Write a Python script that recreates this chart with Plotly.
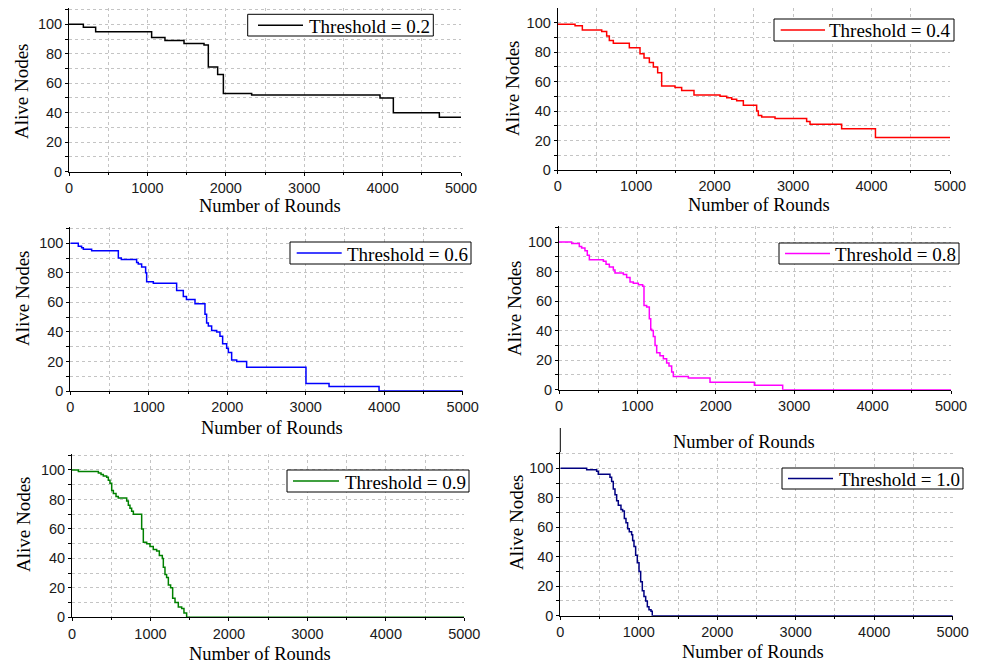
import plotly.graph_objects as go

# ---------------- data ----------------
labels = ["Threshold = 0.2", "Threshold = 0.4", "Threshold = 0.6",
          "Threshold = 0.8", "Threshold = 0.9", "Threshold = 1.0"]
colors = ["#000000", "#ff0000", "#0000ff", "#ff00ff", "#008000", "#000080"]

rounds_02 = [0, 183, 340, 1054, 1224, 1467, 1722, 1777, 1896, 1969, 2330, 3967, 4137, 4724, 5000]
nodes_02 = [100, 98, 95, 91, 89, 87, 86, 71, 66, 53, 52, 50, 40, 37, 37]

rounds_04 = [0, 221, 314, 561, 624, 658, 709, 913, 1049, 1100, 1168, 1219, 1274, 1325, 1495,
             1580, 1737, 2069, 2154, 2218, 2281, 2366, 2536, 2557, 2600, 2770, 3173, 3216,
             3619, 4050, 5000]
nodes_04 = [99, 98, 95, 94, 91, 88, 86, 83, 79, 76, 73, 70, 66, 57, 56,
            54, 51, 50, 49, 48, 47, 44, 40, 37, 36, 35, 33, 31,
            28, 22, 22]

rounds_06 = [0, 102, 144, 166, 272, 612, 650, 845, 866, 909, 960, 973, 1058, 1355, 1440, 1480,
             1589, 1716, 1737, 1759, 1801, 1865, 1907, 1941, 1992, 2014, 2056, 2120, 2247,
             3003, 3297, 3934, 5000]
nodes_06 = [100, 98, 97, 96, 95, 90, 89, 87, 86, 84, 80, 74, 73, 68, 64, 62,
            59, 52, 46, 44, 41, 40, 37, 32, 29, 26, 21, 20, 16,
            5, 3, 0, 0]

rounds_08 = [0, 162, 259, 289, 331, 361, 387, 566, 600, 642, 693, 714, 821, 863, 906, 948, 1012,
             1067, 1084, 1118, 1152, 1170, 1182, 1203, 1225, 1246, 1288, 1331, 1373, 1403, 1437,
             1458, 1650, 1926, 2492, 2853, 5000]
nodes_08 = [100, 99, 97, 96, 94, 91, 88, 87, 85, 83, 81, 79, 78, 76, 73, 72, 71,
            70, 57, 56, 48, 41, 40, 36, 30, 25, 23, 21, 18, 16, 12,
            9, 8, 5, 3, 0, 0]

rounds_09 = [0, 81, 336, 370, 399, 442, 463, 484, 506, 527, 561, 590, 697, 718, 739, 760, 782,
             888, 909, 952, 994, 1036, 1079, 1113, 1151, 1164, 1185, 1206, 1228, 1257, 1283,
             1313, 1355, 1398, 1427, 1461, 5000]
nodes_09 = [100, 99, 98, 97, 96, 95, 93, 91, 86, 84, 82, 81, 79, 76, 74, 72, 70,
            60, 51, 50, 48, 46, 45, 42, 40, 34, 29, 27, 22, 20, 13,
            10, 7, 6, 3, 0, 0]

rounds_10 = [0, 336, 463, 484, 633, 654, 675, 697, 718, 739, 773, 794, 816, 837, 858, 879, 909,
             922, 939, 960, 981, 1003, 1024, 1045, 1066, 1088, 1109, 1130, 1156, 1172, 5000]
nodes_10 = [100, 99, 98, 96, 94, 91, 86, 82, 78, 75, 72, 71, 66, 63, 59, 57, 55,
            51, 47, 41, 36, 30, 23, 17, 13, 10, 6, 4, 3, 0, 0]

series_rounds = [rounds_02, rounds_04, rounds_06, rounds_08, rounds_09, rounds_10]
series_nodes = [nodes_02, nodes_04, nodes_06, nodes_08, nodes_09, nodes_10]

x_tick_vals = [0, 1000, 2000, 3000, 4000, 5000]
y_tick_vals = [0, 20, 40, 60, 80, 100]
x_title = "Number of Rounds"
y_title = "Alive Nodes"

# ---------------- layout geometry (pixels in the 981x667 window) ----------------
W, H = 981, 667
OFF = 8  # default body margin of the written page
# plot area: left, right, pixel of y=100, bottom (y=0)
areas = [(69, 461, 24.3, 171.7), (557.7, 950, 22.7, 170),
         (70.3, 462.7, 243.3, 391), (559, 951, 242, 389.7),
         (72, 464.3, 470, 617.3), (560.3, 952.7, 468.3, 615.7)]
# legend box: left, right, top, bottom, sample-line start, sample-line end, text left
legend_box = [(247.7, 433.3, 14.3, 36, 258, 303, 307),
              (774, 954, 19, 41, 780.7, 825, 827),
              (290, 471, 242, 264, 296.7, 341.7, 344.5),
              (779, 959, 243, 264, 785, 830, 833),
              (287, 469, 470, 492, 293, 339, 342.5),
              (782, 963, 468, 489, 788, 833, 837)]
xtitle_pos = [(270, 206), (759, 205), (272, 428), (744, 442), (260, 654), (753, 652)]
ytitle_pos = [(22, 91), (512, 88), (23, 298), (514, 308), (23, 524), (516, 522)]

def px(x):
    return (x - OFF) / W

def py(y):
    return 1 - (y - OFF) / H

SERIF = "Liberation Serif, Times New Roman, serif"
SANS = "Liberation Sans, Arial, sans-serif"

fig = go.Figure()
layout = dict(width=W, height=H, margin=dict(l=0, r=0, t=0, b=0, pad=0, autoexpand=False),
              paper_bgcolor="white", plot_bgcolor="white", showlegend=False)
annotations = []
shapes = []
for i in range(6):
    sfx = "" if i == 0 else str(i + 1)
    l, r, t100, b = areas[i]
    unit = (b - t100) / 100.0
    top = max(b - 111 * unit, OFF)
    ytop = (b - top) / unit
    fig.add_trace(go.Scatter(
        x=series_rounds[i], y=series_nodes[i], mode="lines", line_shape="hv",
        line=dict(color=colors[i], width=1.5), name=labels[i],
        xaxis="x" + sfx, yaxis="y" + sfx))
    axis_common = dict(showline=True, linecolor="black", linewidth=1, mirror=False,
                       ticks="outside", ticklen=3, tickwidth=1, tickcolor="black",
                       showgrid=False, zeroline=False, automargin=False,
                       tickfont=dict(family=SANS, size=14.5, color="#1a1a1a"))
    layout["xaxis" + sfx] = dict(
        axis_common, domain=[px(l), px(r)], range=[0, 5000], anchor="y" + sfx,
        tickvals=x_tick_vals,
        minor=dict(dtick=500, tick0=0, showgrid=True, gridcolor="#c4c4c4",
                   griddash="dot", gridwidth=1, ticks="outside", ticklen=2,
                   tickcolor="black"))
    layout["yaxis" + sfx] = dict(
        axis_common, domain=[py(b), min(py(top), 1)], range=[0, ytop], anchor="x" + sfx,
        tickvals=y_tick_vals,
        minor=dict(dtick=10, tick0=0, showgrid=True, gridcolor="#c4c4c4",
                   griddash="dot", gridwidth=1, ticks="outside", ticklen=3,
                   tickcolor="black"))
    # legend box drawn by hand so its size matches the reference
    bl, br, bt, bb, s0, s1, tl = legend_box[i]
    ym = (bt + bb) / 2
    shapes.append(dict(type="rect", xref="paper", yref="paper",
                       x0=px(bl), x1=px(br), y0=py(bb), y1=py(bt),
                       line=dict(color="black", width=1), fillcolor="white", layer="above"))
    shapes.append(dict(type="line", xref="paper", yref="paper",
                       x0=px(s0), x1=px(s1), y0=py(ym), y1=py(ym),
                       line=dict(color=colors[i], width=1.5), layer="above"))
    annotations.append(dict(text=labels[i], x=px(tl), y=py(ym + 1), xref="paper", yref="paper",
                            showarrow=False, xanchor="left", yanchor="middle",
                            font=dict(family=SERIF, size=19, color="black")))
    ax, ay = xtitle_pos[i]
    annotations.append(dict(text=x_title, x=px(ax), y=py(ay), xref="paper", yref="paper",
                            showarrow=False, xanchor="center", yanchor="middle",
                            font=dict(family=SERIF, size=18.5, color="black")))
    tx, ty = ytitle_pos[i]
    annotations.append(dict(text=y_title, x=px(tx), y=py(ty), xref="paper", yref="paper",
                            showarrow=False, xanchor="center", yanchor="middle",
                            textangle=-90,
                            font=dict(family=SERIF, size=19, color="black")))

shapes.append(dict(type="line", xref="paper", yref="paper",
                   x0=px(560.3), x1=px(560.3), y0=py(428), y1=py(452.1),
                   line=dict(color="black", width=1)))
layout["annotations"] = annotations
layout["shapes"] = shapes
fig.update_layout(**layout)
fig.write_html("out.html")
